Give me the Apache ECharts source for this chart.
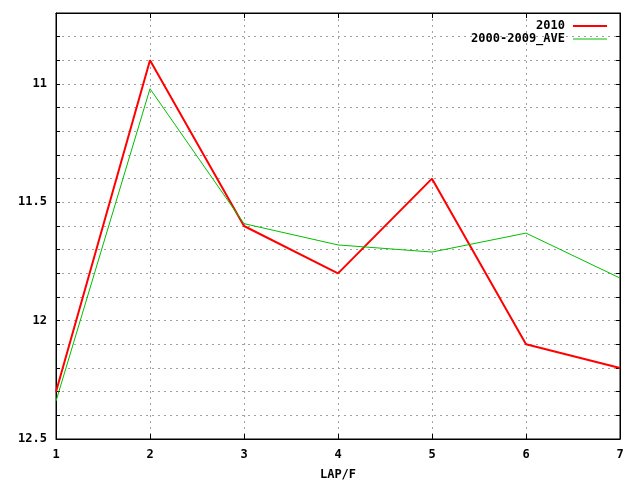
<!DOCTYPE html>
<html>
<head>
    <meta charset="utf-8">
    <title>LAP/F</title>
    <script src="https://cdn.jsdelivr.net/npm/echarts@6/dist/echarts.min.js"></script>
</head>
<body style="margin:0">
<div id="main" style="width: 640px;height:480px;"></div>
<script type="text/javascript">
    // lap numbers and times
    var laps = [1, 2, 3, 4, 5, 6, 7];
    var lap2010 = [12.30, 10.90, 11.60, 11.80, 11.40, 12.10, 12.20];
    var lapAve = [12.34, 11.02, 11.59, 11.68, 11.71, 11.63, 11.82];
    var yTickLabels = [11, 11.5, 12, 12.5];

    function pairs(ys) {
        return laps.map(function (x, i) { return [x, ys[i]]; });
    }

    var font = 'DejaVu Sans Mono';
    var myChart = echarts.init(document.getElementById('main'));

    var tickFmt = function (v) {
        for (var i = 0; i < yTickLabels.length; i++) {
            if (Math.abs(v - yTickLabels[i]) < 1e-6) return String(yTickLabels[i]);
        }
        return '';
    };

    var option = {
        animation: false,
        backgroundColor: '#fff',
        grid: {left: 56, right: 20, top: 13, bottom: 41, show: true, borderColor: '#000', borderWidth: 1,
            outerBoundsMode: 'none'},
        legend: [
            {
                right: 28, top: 15, align: 'right', icon: 'rect', itemWidth: 34, itemHeight: 2,
                textStyle: {fontFamily: font, fontWeight: 'bold', fontSize: 12, color: '#000', padding: [0, 3, 0, 0]},
                data: ['2010']
            },
            {
                right: 28, top: 28, align: 'right', icon: 'rect', itemWidth: 34, itemHeight: 1,
                textStyle: {fontFamily: font, fontWeight: 'bold', fontSize: 12, color: '#000', padding: [0, 3, 0, 0]},
                data: ['2000-2009_AVE']
            }
        ],
        xAxis: [
            {
                type: 'value', min: 1, max: 7, interval: 1,
                name: 'LAP/F', nameLocation: 'middle', nameGap: 30,
                nameTextStyle: {fontFamily: font, fontWeight: 'bold', fontSize: 12, color: '#000'},
                axisLine: {lineStyle: {color: '#000'}},
                axisTick: {inside: true, length: 5, lineStyle: {color: '#000'}},
                axisLabel: {fontFamily: font, fontWeight: 'bold', fontSize: 12, color: '#000', margin: 10},
                splitLine: {show: true, lineStyle: {color: '#a0a0a0', type: [2, 4]}}
            },
            {
                type: 'value', min: 1, max: 7, interval: 1, position: 'top',
                axisLine: {lineStyle: {color: '#000'}},
                axisTick: {inside: true, length: 5, lineStyle: {color: '#000'}},
                axisLabel: {show: false},
                splitLine: {show: false}
            }
        ],
        yAxis: [
            {
                type: 'value', inverse: true, min: 10.7, max: 12.5, interval: 0.1,
                axisLine: {lineStyle: {color: '#000'}},
                axisTick: {inside: true, length: 4, lineStyle: {color: '#000'}},
                axisLabel: {formatter: tickFmt, fontFamily: font, fontWeight: 'bold', fontSize: 12, color: '#000', margin: 9,
                    showMinLabel: true, showMaxLabel: true},
                splitLine: {show: true, lineStyle: {color: '#a0a0a0', type: [2, 4]}}
            },
            {
                type: 'value', inverse: true, min: 10.7, max: 12.5, interval: 0.1, position: 'right',
                axisLine: {lineStyle: {color: '#000'}},
                axisTick: {inside: true, length: 4, lineStyle: {color: '#000'}},
                axisLabel: {show: false},
                splitLine: {show: false}
            }
        ],
        series: [
            {
                name: '2010', type: 'line', symbol: 'none',
                itemStyle: {color: '#ff0000'},
                lineStyle: {color: '#ff0000', width: 2},
                data: pairs(lap2010)
            },
            {
                name: '2000-2009_AVE', type: 'line', symbol: 'none',
                itemStyle: {color: '#00c000'},
                lineStyle: {color: '#00c000', width: 1},
                data: pairs(lapAve)
            }
        ]
    };
    myChart.setOption(option);
</script>
</body>
</html>
